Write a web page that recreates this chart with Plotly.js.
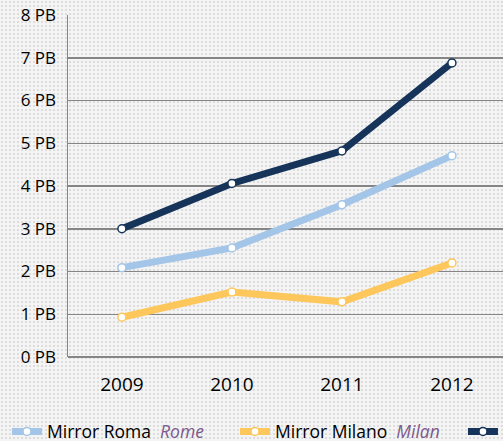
<!DOCTYPE html>
<html>
<head>
<meta charset="utf-8">
<script src="https://cdn.plot.ly/plotly-3.0.1.min.js"></script>
<style>
html, body { margin:0; padding:0; width:503px; height:441px; overflow:hidden;
  background-color:#f4f4f4;
  background-image: radial-gradient(circle, #dcdcdc 0.9px, rgba(0,0,0,0) 1.2px);
  background-size: 4px 4px; }
#chart { width:820px; height:441px; }
</style>
</head>
<body>
<div id="chart"></div>
<script>
const years = ['2009', '2010', '2011', '2012'];
const romaValues = [2.09, 2.55, 3.56, 4.71];
const milanoValues = [0.93, 1.52, 1.29, 2.20];
const thirdValues = [3.00, 4.06, 4.82, 6.88];
const yTickVals = [0, 1, 2, 3, 4, 5, 6, 7, 8];
const yTickText = ['0 PB', '1 PB', '2 PB', '3 PB', '4 PB', '5 PB', '6 PB', '7 PB', '8 PB'];
const names = [
  "Mirror Roma  <i><span style='color:#7b5a8e'>Rome</span></i>",
  "Mirror Milano  <i><span style='color:#7b5a8e'>Milan</span></i>",
  "Mirror Torino  <i><span style='color:#7b5a8e'>Turin</span></i>"
];
const colors = ['#a3c5e8', '#fdc75b', '#16345a'];
const series = [romaValues, milanoValues, thirdValues];

const traces = series.map((vals, i) => ({
  x: years, y: vals, type: 'scatter', mode: 'lines+markers', name: names[i],
  line: { color: colors[i], width: 7 },
  marker: { size: 8, color: '#ffffff', line: { color: colors[i], width: 1.5 } },
  cliponaxis: false
}));

const layout = {
  width: 820, height: 441,
  margin: { l: 68, r: 10, t: 14.5, b: 83.5, autoexpand: false },
  paper_bgcolor: 'rgba(0,0,0,0)', plot_bgcolor: 'rgba(0,0,0,0)',
  font: { family: 'Open Sans, sans-serif', color: '#000000' },
  showlegend: true,
  legend: {
    orientation: 'h', xref: 'container', x: 0.0085, xanchor: 'left',
    y: -0.218, yanchor: 'middle',
    entrywidth: 183, entrywidthmode: 'pixels',
    font: { size: 17.5, color: '#000000' }, bgcolor: 'rgba(0,0,0,0)'
  },
  xaxis: {
    type: 'category', range: [-0.49, 6.255],
    showgrid: false, zeroline: false, showline: false,
    ticks: '', tickfont: { size: 19, color: '#000000' }, ticklabelstandoff: 14
  },
  yaxis: {
    range: [0, 8], tickvals: yTickVals, ticktext: yTickText,
    showgrid: true, gridcolor: '#858585', gridwidth: 1.5,
    zeroline: true, zerolinecolor: '#858585', zerolinewidth: 1.5,
    showline: true, linecolor: '#858585', linewidth: 1.5,
    ticks: '', tickfont: { size: 17, color: '#000000' }, ticklabelstandoff: 7
  }
};

Plotly.newPlot('chart', traces, layout, { displayModeBar: false, staticPlot: true });
</script>
</body>
</html>
